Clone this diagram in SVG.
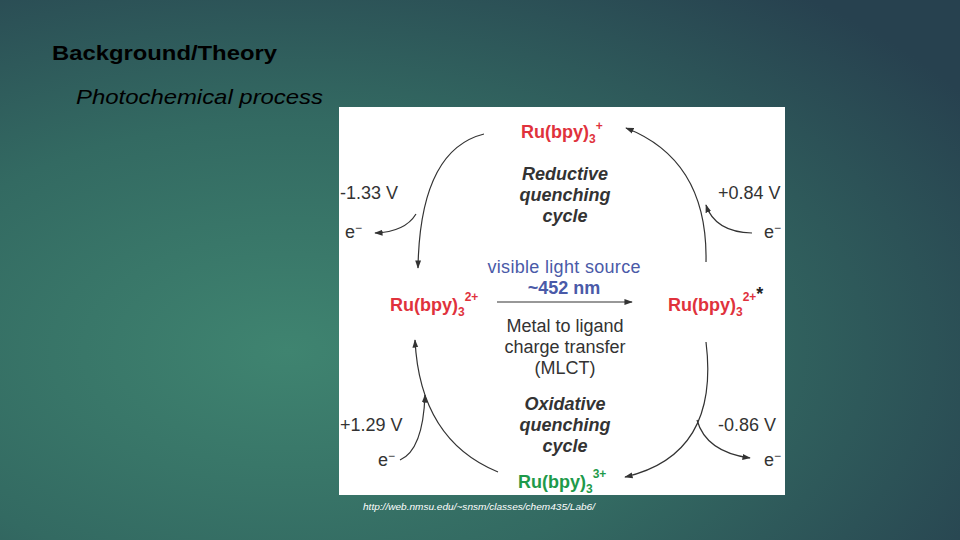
<svg xmlns="http://www.w3.org/2000/svg" width="960" height="540" viewBox="0 0 960 540">
<defs>
<radialGradient id="bg" cx="0.3" cy="0.65" r="0.85">
<stop offset="0" stop-color="#3f8470"/><stop offset="0.5" stop-color="#336a62"/><stop offset="1" stop-color="#27414f"/>
</radialGradient>
<marker id="ah" viewBox="0 0 10 10" refX="9" refY="5" markerWidth="7" markerHeight="7" orient="auto"><path d="M0,1.5 L10,5 L0,8.5 Z" fill="#333"/></marker>
</defs>
<style>
.t{font-family:"Liberation Sans",Arial,sans-serif}
.red{fill:#e0323c;font-weight:bold;font-size:18px}
.grn{fill:#1e9a4a;font-weight:bold;font-size:18px}
.bi{font-weight:bold;font-style:italic;font-size:18px;fill:#333}
.g{fill:#333;font-size:18px}
.c{fill:none;stroke:#333;stroke-width:1.2;marker-end:url(#ah)}
</style>
<rect width="960" height="540" fill="url(#bg)"/>
<text class="t" x="52" y="60" font-size="21" font-weight="bold" fill="#000" textLength="225" lengthAdjust="spacingAndGlyphs">Background/Theory</text>
<text class="t" x="76" y="104" font-size="21" font-style="italic" fill="#000" textLength="247" lengthAdjust="spacingAndGlyphs">Photochemical process</text>
<rect x="339" y="107" width="446" height="388" fill="#fff"/>
<g id="connectors">
<path class="c" d="M484,134 Q420,150 418,268"/>
<path class="c" d="M416,214 Q405,232 375,233"/>
<path class="c" d="M706,262 Q708,160 626,128"/>
<path class="c" d="M752,233 Q715,232 706,205"/>
<path class="c" d="M497,302 H632"/>
<path class="c" d="M498,472 Q420,440 415,340"/>
<path class="c" d="M400,460 Q423,450 425,395"/>
<path class="c" d="M706,342 Q720,455 625,477"/>
<path class="c" d="M697,420 Q706,452 750,458"/>
</g>
<g id="ru1"><text class="t red" x="521" y="138">Ru(bpy)<tspan font-size="12" dy="5">3</tspan><tspan font-size="12" dy="-13">+</tspan></text></g>
<g id="reductive" class="t bi" text-anchor="middle"><text x="565" y="180">Reductive</text><text x="565" y="201">quenching</text><text x="565" y="222">cycle</text></g>
<g id="light" class="t" text-anchor="middle" fill="#4a5aa8"><text x="564" y="273" font-size="18" textLength="153">visible light source</text><text x="564" y="294" font-size="18" font-weight="bold">~452 nm</text></g>
<g id="ru2"><text class="t red" x="390" y="311">Ru(bpy)<tspan font-size="12" dy="5">3</tspan><tspan font-size="12" dy="-15">2+</tspan></text></g>
<g id="ru2s"><text class="t red" x="668" y="311">Ru(bpy)<tspan font-size="12" dy="5">3</tspan><tspan font-size="12" dy="-15">2+</tspan><tspan fill="#222" font-size="18" dy="-1">*</tspan></text></g>
<g id="mlct" class="t g" text-anchor="middle"><text x="565" y="332">Metal to ligand</text><text x="565" y="353">charge transfer</text><text x="565" y="374">(MLCT)</text></g>
<g id="oxidative" class="t bi" text-anchor="middle"><text x="565" y="410">Oxidative</text><text x="565" y="431">quenching</text><text x="565" y="452">cycle</text></g>
<g id="ru3"><text class="t grn" x="518" y="488">Ru(bpy)<tspan font-size="12" dy="5">3</tspan><tspan font-size="12" dy="-15">3+</tspan></text></g>
<g id="labels" class="t g">
<text x="340" y="199">-1.33 V</text><text x="345" y="238">e<tspan font-size="12" dy="-6">−</tspan></text>
<text x="718" y="199">+0.84 V</text><text x="764" y="238">e<tspan font-size="12" dy="-6">−</tspan></text>
<text x="340" y="431">+1.29 V</text><text x="378" y="466">e<tspan font-size="12" dy="-6">−</tspan></text>
<text x="718" y="431">-0.86 V</text><text x="764" y="466">e<tspan font-size="12" dy="-6">−</tspan></text>
</g>
<text class="t" x="363" y="510" font-size="9" font-style="italic" fill="#fff" textLength="232" lengthAdjust="spacingAndGlyphs">http://web.nmsu.edu/~snsm/classes/chem435/Lab6/</text>
</svg>
